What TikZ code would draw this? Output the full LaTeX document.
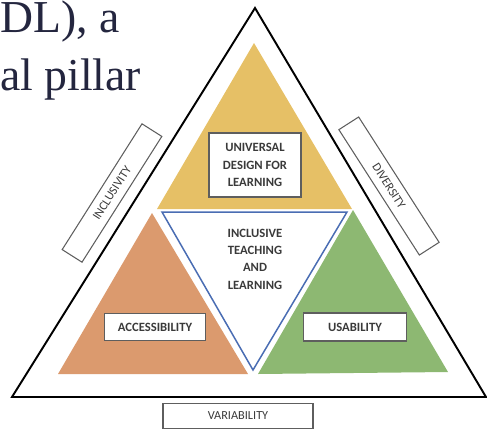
\documentclass[tikz,border=0pt]{standalone}
\usepackage{fontspec}
\setmainfont{Liberation Serif}
\newfontfamily\labelfont{Carlito}
\definecolor{udlyellow}{HTML}{E6C066}
\definecolor{accorange}{HTML}{DB9A6E}
\definecolor{usegreen}{HTML}{8DB872}
\definecolor{itlblue}{HTML}{4A6DB3}
\definecolor{boxgray}{HTML}{5E5E5E}
\definecolor{labelgray}{HTML}{3A3A3A}
\definecolor{pagenavy}{HTML}{24263F}

\begin{document}
\begin{tikzpicture}[x=0.02cm,y=-0.02cm,
  pillar/.style={rectangle,draw=boxgray,fill=white,line width=0.8pt,text=labelgray,align=center,
    font=\labelfont\bfseries\fontsize{7.2}{9.9}\selectfont},
  sidebox/.style={rectangle,draw=boxgray,line width=0.6pt,text=labelgray,minimum width=2.98cm,minimum height=0.47cm,
    font=\labelfont\fontsize{7}{8}\selectfont},
  pagetext/.style={anchor=base west,inner sep=0pt,text=pagenavy,font=\fontsize{26}{30}\selectfont}]
\useasboundingbox (0,0) rectangle (487,430);
\node at (0,32) (line1) [pagetext] {DL), a};
\node at (0,90) (line2) [pagetext] {al pillar};
\draw [line width=1.1pt,line join=miter] (255,8) -- (486,397) -- (12,397) -- cycle;
\fill [udlyellow] (254,43) -- (352,209) -- (157,209) -- cycle;
\fill [accorange] (152,213) -- (248,374) -- (58,374) -- cycle;
\fill [usegreen] (353,210) -- (448,372) -- (258,374) -- cycle;
\draw [itlblue,line width=0.85pt] (162,212) -- (347,212) -- (253,370) -- cycle;
\node at (255,165) (udl) [pillar,minimum width=1.84cm,minimum height=1.28cm] {UNIVERSAL\\DESIGN FOR\\LEARNING};
\node at (255,259) (itl) [align=center,text=labelgray,font=\labelfont\bfseries\fontsize{7.2}{9.9}\selectfont] {INCLUSIVE\\TEACHING\\AND\\LEARNING};
\node at (155,327) (access) [pillar,minimum width=2.02cm,minimum height=0.54cm] {ACCESSIBILITY};
\node at (355,327) (usab) [pillar,minimum width=2.06cm,minimum height=0.56cm] {USABILITY};
\node at (112,193) (inclus) [sidebox,rotate=57.6] {INCLUSIVITY};
\node at (389,186) (divers) [sidebox,rotate=-57.3] {DIVERSITY};
\node at (238,416) (variab) [sidebox,minimum width=3.0cm,minimum height=0.5cm] {VARIABILITY};
\end{tikzpicture}
\end{document}
